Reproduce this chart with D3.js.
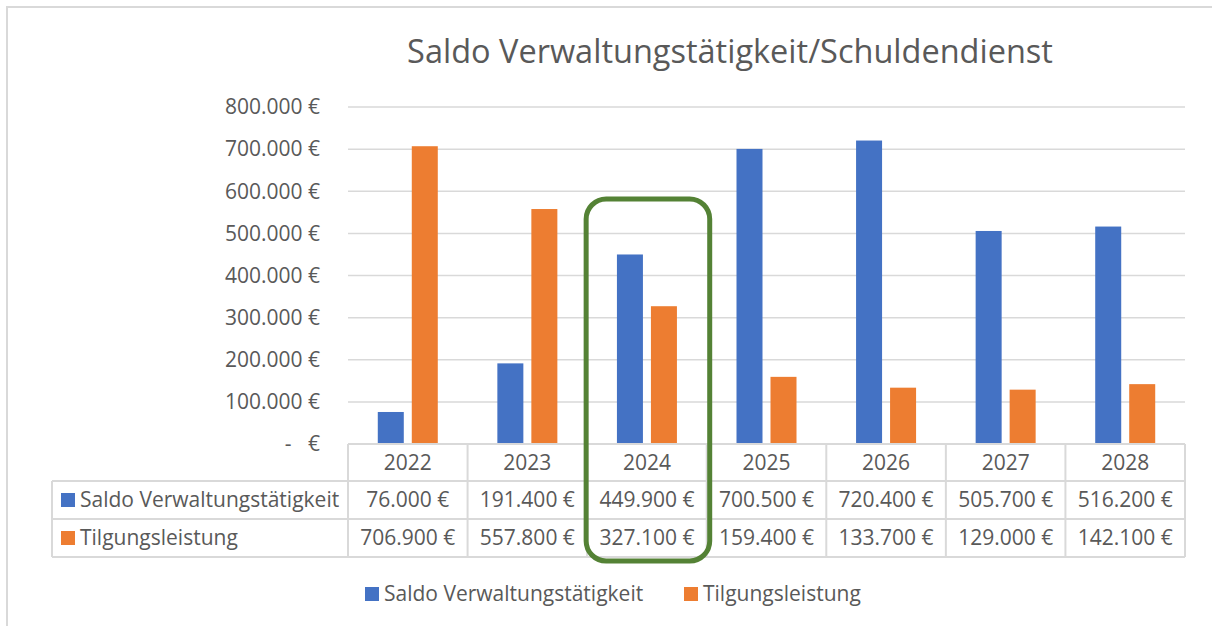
<!DOCTYPE html>
<html>
<head>
<meta charset="utf-8">
<script src="https://cdn.jsdelivr.net/npm/d3@7"></script>
<style>
  html, body { margin: 0; padding: 0; background: #fff; }
  svg { display: block; font-family: "Open Sans", "Noto Sans", sans-serif; }
  text { fill: #595959; }
</style>
</head>
<body>
<div id="chart"></div>
<script>
// ------------------------------------------------------------
// dati
// ------------------------------------------------------------
const YEARS = ['2022', '2023', '2024', '2025', '2026', '2027', '2028'];
const SERIES = ['Saldo Verwaltungstätigkeit', 'Tilgungsleistung'];
const SALDO = [76000, 191400, 449900, 700500, 720400, 505700, 516200];
const TILGUNG = [706900, 557800, 327100, 159400, 133700, 129000, 142100];
const Y_TICKS = [0, 100000, 200000, 300000, 400000, 500000, 600000, 700000, 800000];
const HIGHLIGHT = '2024';

const COLORS = { 'Saldo Verwaltungstätigkeit': '#4472C4', 'Tilgungsleistung': '#ED7D31' };
const GRID = '#d9d9d9';
const FS = 21;

const WIDTH = 1212, HEIGHT = 626;
const plot = { left: 348, right: 1185, top: 107, bottom: 444 };

const svg = d3.select('#chart').append('svg')
  .attr('width', WIDTH).attr('height', HEIGHT);

// cornice esterna
svg.append('rect')
  .attr('x', 7).attr('y', 7).attr('width', WIDTH + 20).attr('height', HEIGHT + 20)
  .attr('fill', 'none').attr('stroke', GRID).attr('stroke-width', 2);

// titolo
svg.append('text')
  .attr('x', 730).attr('y', 63)
  .attr('text-anchor', 'middle')
  .attr('font-size', 32.5)
  .text('Saldo Verwaltungstätigkeit/Schuldendienst');

// scale
const x = d3.scaleBand().domain(YEARS).range([plot.left, plot.right]);
const bw = x.bandwidth();
const x1 = d3.scaleBand().domain(SERIES).range([0, bw]).paddingInner(8 / 34).paddingOuter(0.876);
const y = d3.scaleLinear().domain([0, 800000]).range([plot.bottom, plot.top]);

const euro = v => v === 0 ? '-   €' : d3.format(',')(v).replace(/,/g, '.') + ' €';

// griglia
svg.append('g').selectAll('line')
  .data(Y_TICKS.filter(t => t > 0))
  .join('line')
  .attr('x1', plot.left).attr('x2', plot.right)
  .attr('y1', d => y(d)).attr('y2', d => y(d))
  .attr('stroke', GRID).attr('stroke-width', 1.5);

// etichette asse y
svg.append('g').selectAll('text')
  .data(Y_TICKS)
  .join('text')
  .attr('x', 320).attr('y', d => y(d))
  .attr('dy', '0.35em')
  .attr('text-anchor', 'end')
  .attr('font-size', FS)
  .attr('xml:space', 'preserve')
  .text(euro);

// barre
const rows = YEARS.map((yr, i) => ({ year: yr, values: [SALDO[i], TILGUNG[i]] }));
const groups = svg.append('g').selectAll('g')
  .data(rows)
  .join('g')
  .attr('transform', d => `translate(${x(d.year)},0)`);

groups.selectAll('rect')
  .data(d => SERIES.map((s, j) => ({ series: s, value: d.values[j] })))
  .join('rect')
  .attr('x', d => x1(d.series))
  .attr('width', x1.bandwidth())
  .attr('y', d => y(d.value))
  .attr('height', d => y(0) - y(d.value))
  .attr('fill', d => COLORS[d.series]);

// tabella dati
const rowH = [37, 38, 38];
const rowTop = [plot.bottom, plot.bottom + rowH[0], plot.bottom + rowH[0] + rowH[1]];
const tableLeft = 52;
const table = svg.append('g');

// riga anni
table.selectAll('.yr')
  .data(YEARS)
  .join('text')
  .attr('x', d => x(d) + bw / 2)
  .attr('y', rowTop[0] + rowH[0] / 2)
  .attr('dy', '0.35em')
  .attr('text-anchor', 'middle')
  .attr('font-size', FS)
  .text(d => d);

const dataRows = [SALDO, TILGUNG];
dataRows.forEach((vals, r) => {
  const top = rowTop[r + 1];
  const cy = top + rowH[r + 1] / 2;
  // chiave colore
  table.append('rect')
    .attr('x', 61).attr('y', cy - 7).attr('width', 14).attr('height', 14)
    .attr('fill', COLORS[SERIES[r]]);
  table.append('text')
    .attr('x', 80).attr('y', cy).attr('dy', '0.35em')
    .attr('font-size', FS)
    .text(SERIES[r]);
  table.selectAll(null)
    .data(vals)
    .join('text')
    .attr('x', (d, i) => x(YEARS[i]) + bw / 2)
    .attr('y', cy).attr('dy', '0.35em')
    .attr('text-anchor', 'middle')
    .attr('font-size', FS)
    .text(euro);
});

// linee tabella
const tableBottom = rowTop[2] + rowH[2];
const hLines = [
  { x1: plot.left, x2: plot.right, y: rowTop[0] },
  { x1: tableLeft, x2: plot.right, y: rowTop[1] },
  { x1: tableLeft, x2: plot.right, y: rowTop[2] },
  { x1: tableLeft, x2: plot.right, y: tableBottom }
];
table.selectAll('.hl')
  .data(hLines)
  .join('line')
  .attr('x1', d => d.x1).attr('x2', d => d.x2)
  .attr('y1', d => d.y).attr('y2', d => d.y)
  .attr('stroke', GRID).attr('stroke-width', 2);

const vEdges = YEARS.map(d => x(d)).concat([plot.right]);
table.selectAll('.vl')
  .data(vEdges)
  .join('line')
  .attr('x1', d => d).attr('x2', d => d)
  .attr('y1', rowTop[0]).attr('y2', tableBottom)
  .attr('stroke', GRID).attr('stroke-width', 2);
table.append('line')
  .attr('x1', tableLeft).attr('x2', tableLeft)
  .attr('y1', rowTop[1]).attr('y2', tableBottom)
  .attr('stroke', GRID).attr('stroke-width', 2);

// evidenziazione 2024
svg.append('rect')
  .attr('x', x(HIGHLIGHT) - 1)
  .attr('y', 199)
  .attr('width', bw + 4)
  .attr('height', 362)
  .attr('rx', 20).attr('ry', 20)
  .attr('fill', 'none')
  .attr('stroke', '#548235')
  .attr('stroke-width', 5);

// legenda
const legendItems = [
  { name: SERIES[0], x: 365 },
  { name: SERIES[1], x: 684 }
];
const lg = svg.append('g').selectAll('g')
  .data(legendItems)
  .join('g')
  .attr('transform', d => `translate(${d.x},594)`);
lg.append('rect')
  .attr('x', 0).attr('y', -7).attr('width', 14).attr('height', 14)
  .attr('fill', d => COLORS[d.name]);
lg.append('text')
  .attr('x', 19).attr('dy', '0.35em')
  .attr('font-size', FS)
  .text(d => d.name);
</script>
</body>
</html>
